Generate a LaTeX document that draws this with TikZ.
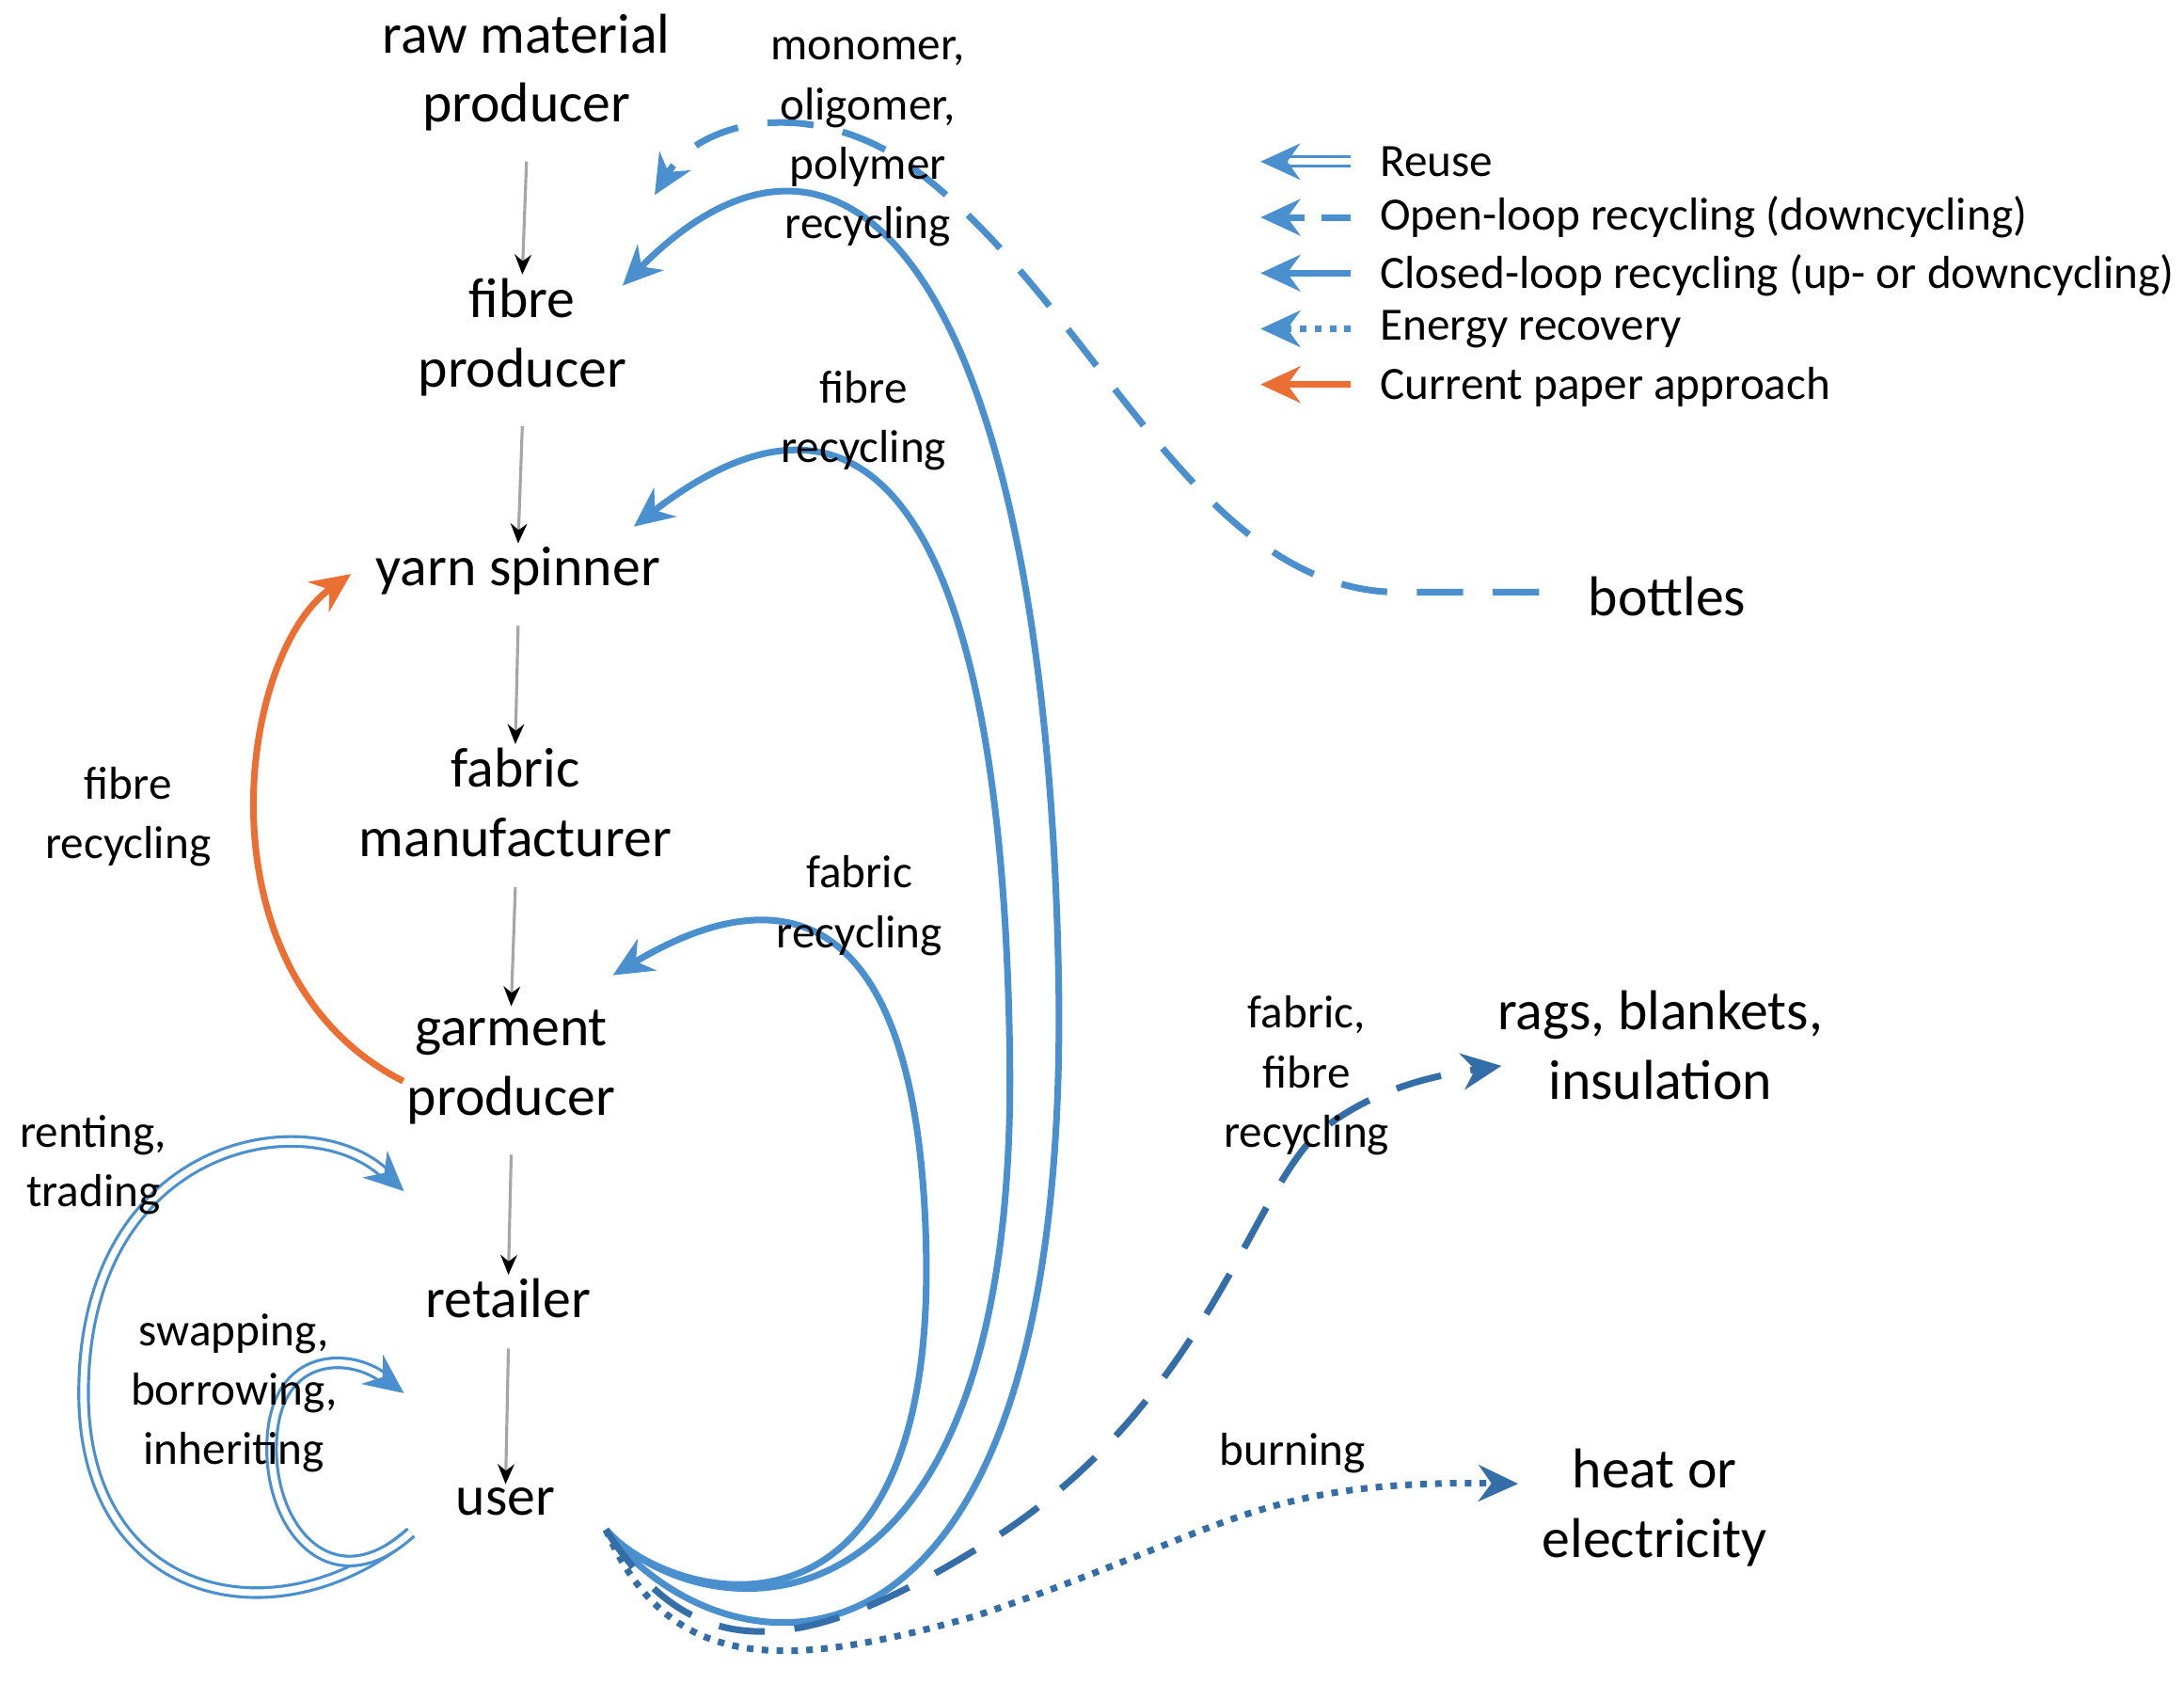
\documentclass[tikz,border=0pt]{standalone}
\usepackage{fontspec}
\setmainfont{Carlito}
\usetikzlibrary{arrows.meta}
\definecolor{mb}{RGB}{74,144,206}
\definecolor{db}{RGB}{52,110,168}
\definecolor{or}{RGB}{235,110,50}
\begin{document}
\begin{tikzpicture}[x=0.01481cm,y=-0.01481cm,
  main/.style={font=\fontsize{17}{21}\selectfont,align=center,inner sep=1pt},
  lab/.style={font=\fontsize{14}{18}\selectfont,align=center,inner sep=1pt},
  flow/.style={draw=gray!70,line width=0.9pt,-{Stealth[black,length=6pt,width=5pt]}},
  closed/.style={draw=mb,line width=2pt,-{Stealth[length=12pt,width=11pt]}},
  open/.style={draw=mb,line width=2pt,dash pattern=on 14pt off 9pt,-{Stealth[length=12pt,width=11pt]}},
  opend/.style={draw=db,line width=2pt,dash pattern=on 14pt off 9pt,-{Stealth[length=12pt,width=11pt]}},
  energy/.style={draw=db,line width=2pt,dash pattern=on 2pt off 2.5pt,-{Stealth[length=12pt,width=11pt]}},
  reuse/.style={draw=mb,double=white,double distance=2pt,line width=0.9pt,-{Stealth[length=12pt,width=11pt,fill=mb]}},
  cur/.style={draw=or,line width=2pt,-{Stealth[length=12pt,width=11pt]}}]
\useasboundingbox (0,0) rectangle (1568,1220);
\node[main] (raw) at (378,52) {raw material\\producer};
\node[main] (fib) at (375,242) {fibre\\producer};
\node[main] (yarn) at (372,410) {yarn spinner};
\node[main] (fab) at (370,576) {fabric\\manufacturer};
\node[main] (gar) at (367,766) {garment\\producer};
\node[main] (ret) at (365,932) {retailer};
\node[main] (user) at (363,1078) {user};
\node[main] (bot) at (1197,428) {bottles};
\node[main] (rags) at (1192,750) {rags, blankets,\\insulation};
\node[main] (heat) at (1188,1082) {heat or\\electricity};
\foreach \a/\b in {raw/fib,fib/yarn,yarn/fab,fab/gar,gar/ret,ret/user}
  \draw[flow] ([yshift=-8pt]\a.south) -- (\b.north);
% closed loops
\coordinate (u1) at (435,1098);
\coordinate (m1) at (447,205);
\coordinate (f1) at (455,378);
\coordinate (c1) at (440,700);
\draw[closed] (u1) .. controls (520,1210) and (770,1240) .. (760,700) .. controls (750,200) and (610,40) .. (m1);
\draw[closed] (u1) .. controls (500,1170) and (730,1200) .. (725,760) .. controls (720,360) and (620,250) .. (f1);
\draw[closed] (u1) .. controls (480,1150) and (670,1200) .. (665,900) .. controls (660,620) and (540,640) .. (c1);
% open loop bottles
\coordinate (b1) at (1105,425);
\draw[open] (b1) -- (1000,425) .. controls (850,420) and (780,200) .. (640,110) .. controls (570,70) and (500,90) .. (470,140);
\coordinate (r1) at (1078,765);
\draw[opend] (u1) .. controls (500,1200) and (580,1190) .. (720,1100) .. controls (870,1000) and (900,850) .. (950,810) .. controls (990,780) and (1030,772) .. (r1);
\coordinate (h1) at (1090,1065);
\draw[energy] (u1) .. controls (480,1200) and (560,1200) .. (700,1160) .. controls (880,1100) and (900,1062) .. (h1);
% current
\draw[cur] (gar.west) ++(0,10) .. controls (140,700) and (170,470) .. (252,412);
% reuse
\coordinate (ru1) at (295,1100);
\coordinate (ra1) at (290,855);
\coordinate (rb1) at (290,1000);
\draw[reuse] (ru1) .. controls (200,1180) and (60,1150) .. (60,1000) .. controls (60,820) and (220,790) .. (ra1);
\draw[reuse] (ru1) .. controls (240,1150) and (195,1100) .. (195,1040) .. controls (195,970) and (250,970) .. (rb1);
% labels
\node[lab] at (623,102) {monomer,\\oligomer,\\polymer\\recycling};
\node[lab] at (620,302) {fibre\\recycling};
\node[lab] at (617,650) {fabric\\recycling};
\node[lab] at (92,586) {fibre\\recycling};
\node[lab] at (938,772) {fabric,\\fibre\\recycling};
\node[lab] at (928,1043) {burning};
\node[lab] at (67,836) {renting,\\trading};
\node[lab] at (168,1000) {swapping,\\borrowing,\\inheriting};
% legend
\coordinate (la) at (970,116); \coordinate (lb) at (905,116);
\draw[reuse] (la) -- (lb);
\node[lab,anchor=west] at (988,116) {Reuse};
\coordinate (la2) at (970,156); \coordinate (lb2) at (905,156);
\draw[open,dash pattern=on 9pt off 5pt] (la2) -- (lb2);
\node[lab,anchor=west] at (988,156) {Open-loop recycling (downcycling)};
\coordinate (la3) at (970,196); \coordinate (lb3) at (905,196);
\draw[closed] (la3) -- (lb3);
\node[lab,anchor=west] at (988,198) {Closed-loop recycling (up- or downcycling)};
\coordinate (la4) at (970,236); \coordinate (lb4) at (905,236);
\draw[energy,draw=mb] (la4) -- (lb4);
\node[lab,anchor=west] at (988,236) {Energy recovery};
\coordinate (la5) at (970,276); \coordinate (lb5) at (905,276);
\draw[cur] (la5) -- (lb5);
\node[lab,anchor=west] at (988,278) {Current paper approach};
\end{tikzpicture}
\end{document}
